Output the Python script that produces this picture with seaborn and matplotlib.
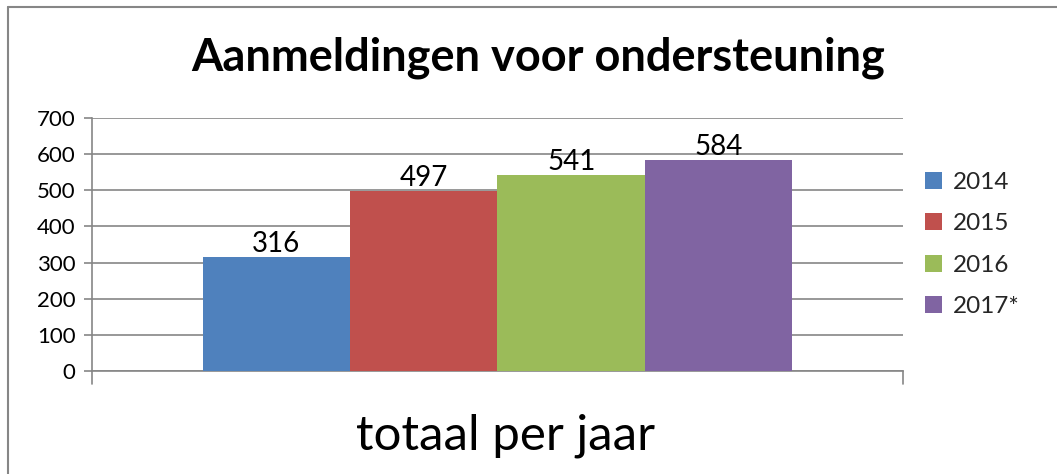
import matplotlib
matplotlib.use("Agg")
import matplotlib.pyplot as plt
import seaborn as sns
import pandas as pd
from matplotlib.lines import Line2D

categories = ["totaal per jaar"]
years = ["2014", "2015", "2016", "2017*"]
values = [316, 497, 541, 584]
colors = ["#4F81BD", "#C0504D", "#9BBB59", "#8064A2"]
yticks = [0, 100, 200, 300, 400, 500, 600, 700]
title = "Aanmeldingen voor ondersteuning"

sns.set_theme(style="white")
plt.rcParams["font.family"] = ["Lato", "DejaVu Sans"]

df = pd.DataFrame({"cat": categories * len(years), "year": years, "value": values})

W, H = 1057, 474
fig = plt.figure(figsize=(W / 100, H / 100), dpi=100)
ax = fig.add_axes([92 / W, (H - 371) / H, (903 - 92) / W, (371 - 118) / H])

sns.barplot(data=df, x="cat", y="value", hue="year", palette=colors,
            width=0.727, dodge=True, ax=ax, saturation=1, edgecolor="none",
            linewidth=0, legend=True, zorder=3)

ax.set_ylim(0, 700)
ax.set_xlim(-0.5, 0.5)
ax.set_yticks(yticks)
ax.set_yticklabels([str(t) for t in yticks], fontsize=16, color="black")
ax.set_xticks([])
ax.set_xlabel("")
ax.set_ylabel("")
ax.yaxis.grid(True, color="#868686", linewidth=1.2, zorder=0)
ax.xaxis.grid(False)
for s in ["top", "right"]:
    ax.spines[s].set_visible(False)
for s in ["left", "bottom"]:
    ax.spines[s].set_color("#868686")
    ax.spines[s].set_linewidth(1.2)
ax.tick_params(axis="y", length=6, width=1.2, color="#868686", left=True, pad=6)

# category boundary ticks below x-axis
for xb in [-0.5, 0.5]:
    ax.add_line(Line2D([xb, xb], [0, -0.05], transform=ax.get_xaxis_transform(),
                       color="#868686", linewidth=1.2, clip_on=False))

for cont in ax.containers:
    ax.bar_label(cont, fmt="%d", fontsize=20, padding=0, color="black")

handles, labels = ax.get_legend_handles_labels()
ax.legend(handles, labels, loc="upper left", bbox_to_anchor=(903 / W, (H - 150) / H),
          bbox_transform=fig.transFigure, frameon=False, fontsize=17.5,
          handlelength=0.7, handleheight=0.7, handletextpad=0.45,
          labelspacing=0.84)

fig.text(538 / W, (H - 58) / H, title, ha="center", va="center",
         fontsize=32.5, fontweight="bold", color="black")
fig.text(506 / W, (H - 436) / H, categories[0], ha="center", va="center",
         fontsize=35.5, color="black")

# chart border (top and left visible)
fig.add_artist(Line2D([8 / W, 1.0], [(H - 7) / H, (H - 7) / H], transform=fig.transFigure,
                      color="#868686", linewidth=1.5))
fig.add_artist(Line2D([8 / W, 8 / W], [0, (H - 7) / H], transform=fig.transFigure,
                      color="#868686", linewidth=1.5))

fig.savefig("out.png", dpi=100, facecolor="white")
